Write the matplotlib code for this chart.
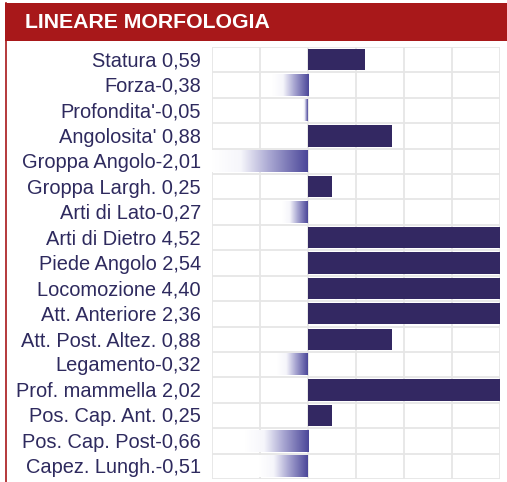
import matplotlib
matplotlib.use("Agg")
import matplotlib.pyplot as plt
import numpy as np
from matplotlib.colors import LinearSegmentedColormap
from matplotlib.patches import Rectangle
from matplotlib.lines import Line2D

# data
traits = ['Statura', 'Forza', "Profondita'", "Angolosita'", 'Groppa Angolo',
          'Groppa Largh.', 'Arti di Lato', 'Arti di Dietro', 'Piede Angolo',
          'Locomozione', 'Att. Anteriore', 'Att. Post. Altez.', 'Legamento',
          'Prof. mammella', 'Pos. Cap. Ant.', 'Pos. Cap. Post', 'Capez. Lungh.']
values = [0.59, -0.38, -0.05, 0.88, -2.01, 0.25, -0.27, 4.52, 2.54,
          4.40, 2.36, 0.88, -0.32, 2.02, 0.25, -0.66, -0.51]
x_ticks = [-1.0, -0.5, 0.0, 0.5, 1.0, 1.5, 2.0]

W, H = 507, 482
RED = '#a8181a'
NAVY = '#332862'
TEXT = '#2e2a5e'
GRID = '#e6e6e6'

fig = plt.figure(figsize=(W / 100, H / 100), dpi=100)
fig.patch.set_facecolor('white')

def fy(py):
    return 1 - py / H

# card header and red border
fig.patches.append(Rectangle((5 / W, fy(41)), 1, (41 - 3) / H, transform=fig.transFigure,
                             facecolor=RED, edgecolor='none', zorder=0))
fig.lines.append(Line2D([5.5 / W, 5.5 / W], [fy(3), 0], transform=fig.transFigure,
                        color=RED, linewidth=1.2))
fig.text(25 / W, fy(23), 'LINEARE MORFOLOGIA', color='white', fontsize=15.3,
         fontweight='bold', family='Liberation Sans', va='center', ha='left')

# plot area
ax = fig.add_axes([212 / W, fy(479), (500 - 212) / W, (479 - 47) / H])
n = len(traits)
lo, hi = x_ticks[0], x_ticks[-1]
for s in ax.spines.values():
    s.set_visible(False)
ax.set_xticks([])
ax.set_yticks([])

for xv in x_ticks:
    ax.axvline(xv, color=GRID, linewidth=1.3, zorder=0)
for k in range(n + 1):
    ax.axhline(k - 0.5, color=GRID, linewidth=1.3, zorder=0)

cmap = LinearSegmentedColormap.from_list(
    'neg', [(0, '#ffffff'), (0.3, '#f6f6fb'), (0.6, '#a9a7d2'), (1, '#4b4799')])
grad = np.linspace(0, 1, 256).reshape(1, -1)
bh = 0.84
for i, v in enumerate(values):
    if v >= 0:
        ax.barh(i, min(v, hi), height=bh, color=NAVY, zorder=2)
    else:
        ax.imshow(grad, cmap=cmap, aspect='auto', interpolation='bilinear',
                  extent=[max(v, lo), 0, i + bh / 2, i - bh / 2], zorder=2)
    sep = ' ' if v >= 0 else ''
    label = traits[i] + sep + f"{v:.2f}".replace('.', ',')
    ax.text(-0.038, i + 0.05, label, transform=ax.get_yaxis_transform(), ha='right',
            va='center', fontsize=14.4, color=TEXT, family='Liberation Sans')

ax.set_xlim(lo, hi)
ax.set_ylim(n - 0.5, -0.5)

fig.savefig('out.png', dpi=100, facecolor='white')
